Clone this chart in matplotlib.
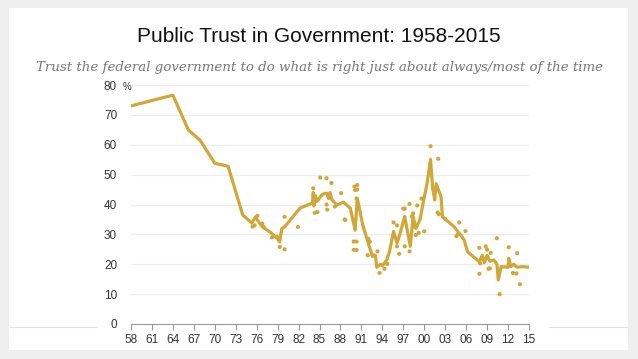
import matplotlib
matplotlib.use("Agg")
import matplotlib.pyplot as plt

# ---- data ----
trend_years = [1958.0, 1964.0, 1966.2, 1967.9, 1970.0, 1971.9, 1974.0, 1975.3, 1975.8,
               1976.8, 1977.9, 1978.9, 1979.3, 1979.6, 1980.0, 1982.2, 1984.0, 1984.1,
               1984.2, 1984.4, 1984.6, 1985.1, 1985.5, 1986.0, 1986.3, 1986.5, 1986.8,
               1987.5, 1988.4, 1989.4, 1990.0, 1990.1, 1990.4, 1990.6, 1991.2, 1992.2,
               1992.5, 1993.0, 1993.2, 1993.7, 1994.0, 1994.6, 1995.0, 1995.6, 1996.1,
               1996.5, 1997.2, 1997.6, 1998.0, 1998.4, 1998.8, 1999.4, 1999.8, 2000.4,
               2000.9, 2001.2, 2001.5, 2001.7, 2002.4, 2002.6, 2004.3, 2005.0, 2005.7,
               2006.2, 2007.9, 2008.3, 2008.6, 2009.0, 2009.4, 2010.0, 2010.4, 2010.6,
               2011.0, 2012.0, 2012.1, 2012.4, 2012.8, 2013.3, 2014.0, 2015.0]
trend_values = [73.0, 76.6, 65.0, 61.5, 53.8, 52.8, 36.5, 33.8, 35.8,
                32.5, 30.8, 28.8, 27.5, 32.0, 32.5, 38.8, 40.5, 44.0,
                39.5, 43.0, 41.0, 42.5, 43.5, 43.8, 42.0, 44.0, 41.5,
                39.8, 40.8, 38.8, 32.5, 31.4, 42.0, 40.0, 33.0, 25.4,
                23.2, 23.0, 19.0, 20.0, 19.5, 21.4, 24.0, 31.0, 27.0,
                30.0, 36.0, 31.0, 26.0, 36.0, 32.0, 35.0, 40.0, 47.0,
                55.1, 45.5, 41.5, 47.0, 42.6, 35.9, 32.5, 30.4, 28.2,
                24.2, 20.8, 23.0, 20.5, 23.0, 21.0, 21.4, 20.0, 14.7,
                19.2, 19.0, 22.0, 19.2, 20.0, 19.0, 19.2, 19.0]

poll_years = [1975.4, 1975.7, 1976.1, 1976.8, 1977.0, 1978.2, 1978.9, 1979.3, 1980.0,
              1980.0, 1981.9, 1984.1, 1984.3, 1984.7, 1985.1, 1986.0, 1986.0, 1986.1,
              1986.7, 1987.2, 1988.1, 1988.6, 1989.9, 1989.9, 1990.0, 1990.1, 1988.7,
              1990.3, 1990.4, 1990.4, 1990.3, 1990.3, 1992.0, 1992.2, 1991.9, 1992.6,
              1993.3, 1993.6, 1994.3, 1994.7, 1995.6, 1996.1, 1996.1, 1996.4, 1997.0,
              1997.2, 1997.2, 1997.9, 1997.9, 1998.4, 1998.2, 1998.6, 1998.8, 1999.0,
              1999.2, 1999.6, 2000.0, 2000.9, 2002.0, 2001.9, 2002.1, 2003.0, 2004.6,
              2004.8, 2005.0, 2005.9, 2007.9, 2007.9, 2008.0, 2008.8, 2009.0, 2009.2,
              2009.5, 2009.4, 2010.4, 2010.8, 2012.1, 2012.7, 2013.3, 2013.2, 2013.7]
poll_values = [32.6, 33.0, 36.2, 33.6, 32.5, 29.0, 29.2, 25.8, 25.0,
               35.9, 32.5, 45.4, 37.2, 37.5, 49.0, 48.8, 40.0, 38.3,
               47.2, 39.3, 43.8, 35.0, 27.6, 24.8, 46.0, 44.8, 34.8,
               42.0, 46.5, 45.0, 27.6, 24.8, 28.5, 27.5, 23.0, 22.8,
               24.3, 17.1, 18.5, 20.1, 34.0, 33.0, 26.0, 23.5, 38.6,
               38.6, 26.0, 40.2, 24.3, 37.0, 36.0, 32.5, 29.8, 39.7,
               30.5, 42.0, 31.0, 59.5, 55.3, 37.3, 36.8, 35.2, 29.4,
               30.0, 34.0, 31.1, 25.5, 16.8, 20.3, 26.0, 24.9, 18.5,
               23.8, 18.6, 28.7, 10.0, 25.7, 17.1, 23.7, 16.9, 13.3]

xtick_years = list(range(1958, 2016, 3))
xtick_labels = ["%02d" % (y % 100) for y in xtick_years]
ytick_values = [0, 10, 20, 30, 40, 50, 60, 70, 80]

title = "Public Trust in Government: 1958-2015"
subtitle = "Trust the federal government to do what is right just about always/most of the time"

# ---- figure ----
W, H = 638, 359
fig = plt.figure(figsize=(W / 100, H / 100), dpi=100)
fig.patch.set_facecolor("#efefef")

def fx(px):
    return px / W

def fy(py):
    return 1 - py / H

# white slide panel (as a background axes)
bg = fig.add_axes([fx(9), fy(350), fx(628) - fx(9), fy(8) - fy(350)], zorder=0)
bg.set_facecolor("white")
bg.set_xticks([]); bg.set_yticks([])
for s in bg.spines.values():
    s.set_visible(False)
bg.set_xlim(9, 628)
bg.set_ylim(350, 8)
for x0, x1 in [(10, 96), (549, 627)]:
    bg.plot([x0, x1], [327, 327], color="#e2e2e2", linewidth=0.8)

gold = "#d2a73a"

left, right = 131, 529
bottom = 324
top80 = 85
ymax = 80.4
top = bottom - (bottom - top80) * ymax / 80
ax = fig.add_axes([fx(left), fy(bottom), fx(right) - fx(left), fy(top) - fy(bottom)], zorder=2)
ax.set_facecolor("none")
ax.set_xlim(1958, 2015)
ax.set_ylim(0, ymax)

for v in ytick_values[1:]:
    ax.axhline(v, color="#ececec", linewidth=0.8, zorder=1)

ax.plot(trend_years, trend_values, color=gold, linewidth=2.3, solid_joinstyle="round",
        zorder=3)
ax.scatter(poll_years, poll_values, s=9, color=gold, edgecolors="none", zorder=4)

for s in ["top", "right", "left"]:
    ax.spines[s].set_visible(False)
ax.spines["bottom"].set_color("#999999")
ax.spines["bottom"].set_linewidth(0.8)

ax.set_xticks(xtick_years)
ax.set_xticklabels(xtick_labels, fontsize=8.5, color="#333333", family="Liberation Sans")
ax.tick_params(axis="x", direction="out", length=4, width=0.8, color="#999999", pad=3)
ax.set_yticks(ytick_values)
ax.set_yticklabels([str(v) for v in ytick_values], fontsize=8.5, color="#333333",
                   family="Liberation Sans")
ax.tick_params(axis="y", length=0, pad=10)
ax.text(-0.021, 79.2, "%", transform=ax.get_yaxis_transform(), fontsize=7, color="#333333",
        family="Liberation Sans", ha="left", va="center")

fig.text(0.5, fy(37), title, ha="center", va="center", fontsize=15,
         family="Liberation Sans", color="#111111", zorder=3)
fig.text(fx(319), fy(68), subtitle, ha="center", va="center", fontsize=9.6,
         family="DejaVu Serif", style="italic", color="#777777", zorder=3)

fig.savefig("out.png", dpi=100, facecolor=fig.get_facecolor())
